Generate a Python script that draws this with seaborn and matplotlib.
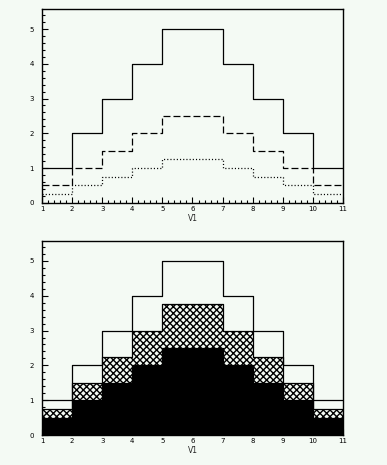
import numpy as np
import matplotlib
matplotlib.use("Agg")
import matplotlib.pyplot as plt
from matplotlib.ticker import MultipleLocator
import seaborn as sns

# ---- data: 10 bins from 1 to 11 ----
bin_edges = [1, 2, 3, 4, 5, 6, 7, 8, 9, 10, 11]
bin_centers = [1.5, 2.5, 3.5, 4.5, 5.5, 6.5, 7.5, 8.5, 9.5, 10.5]
h_full = [1, 2, 3, 4, 5, 5, 4, 3, 2, 1]
h_half = [0.5, 1, 1.5, 2, 2.5, 2.5, 2, 1.5, 1, 0.5]
h_quarter = [0.25, 0.5, 0.75, 1, 1.25, 1.25, 1, 0.75, 0.5, 0.25]
h_three_q = [0.75, 1.5, 2.25, 3, 3.75, 3.75, 3, 2.25, 1.5, 0.75]
xticks = [1, 2, 3, 4, 5, 6, 7, 8, 9, 10, 11]
yticks = [0, 1, 2, 3, 4, 5]

bg = "#f4faf4"

sns.set_style("ticks")
plt.rcParams["font.family"] = ["DejaVu Sans"]
plt.rcParams["lines.scale_dashes"] = False
plt.rcParams["hatch.linewidth"] = 1.0

fig = plt.figure(figsize=(3.87, 4.65), dpi=100, facecolor=bg)
ax1 = fig.add_axes([0.1085, 0.564, 0.7778, 0.416])
ax2 = fig.add_axes([0.1085, 0.0645, 0.7778, 0.417])

lw = 0.9

# ---- top panel: three outlines ----
sns.histplot(x=bin_centers, weights=h_full, bins=bin_edges, element="step",
             fill=False, color="black", linewidth=lw, ax=ax1)
sns.histplot(x=bin_centers, weights=h_half, bins=bin_edges, element="step",
             fill=False, color="black", linewidth=lw, linestyle=(0, (5, 2.2)), ax=ax1)
sns.histplot(x=bin_centers, weights=h_quarter, bins=bin_edges, element="step",
             fill=False, color="black", linewidth=lw, linestyle=(0, (0.8, 1.5)), ax=ax1)

# ---- bottom panel: outline, hatched and solid layers ----
sns.histplot(x=bin_centers, weights=h_three_q, bins=bin_edges, element="step",
             fill=True, facecolor=bg, edgecolor="black", hatch="xxxxx",
             linewidth=lw, alpha=1, ax=ax2)
sns.histplot(x=bin_centers, weights=h_half, bins=bin_edges, element="step",
             fill=True, facecolor="black", edgecolor="black", linewidth=lw,
             alpha=1, ax=ax2)
sns.histplot(x=bin_centers, weights=h_full, bins=bin_edges, element="step",
             fill=False, color="black", linewidth=lw, ax=ax2)

for ax in (ax1, ax2):
    ax.set_facecolor(bg)
    ax.set_xlim(1, 11)
    ax.set_ylim(0, 5.57)
    ax.set_xticks(xticks)
    ax.set_yticks(yticks)
    ax.xaxis.set_minor_locator(MultipleLocator(0.2))
    ax.yaxis.set_minor_locator(MultipleLocator(0.2))
    ax.tick_params(which="both", direction="in", top=False, right=False,
                   width=0.8, colors="black")
    ax.tick_params(which="major", length=4.5, labelsize=5)
    ax.tick_params(which="minor", length=2.2)
    ax.tick_params(axis="y", pad=6)
    ax.tick_params(axis="x", pad=2.5)
    for s in ax.spines.values():
        s.set_visible(True)
        s.set_linewidth(1.0)
        s.set_color("black")
    ax.set_xlabel("V1", fontsize=5.5, labelpad=1)
    ax.set_ylabel("")

plt.savefig("out.png", dpi=100, facecolor=bg)
